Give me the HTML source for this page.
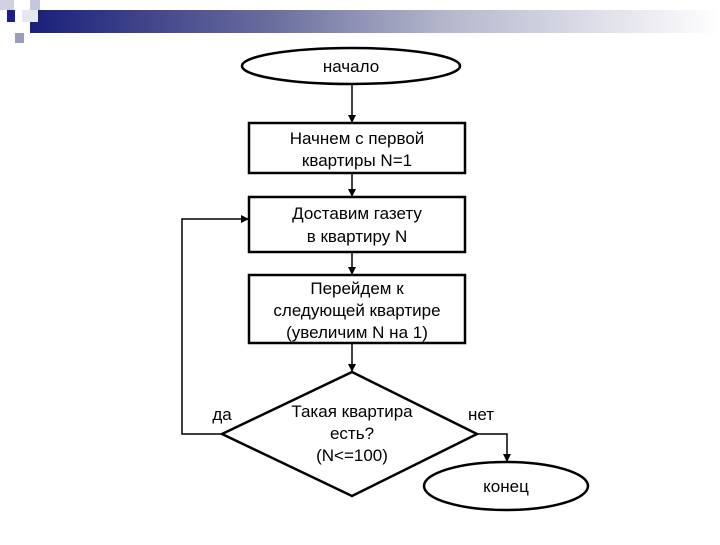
<!DOCTYPE html>
<html><head><meta charset="utf-8"><style>
body{margin:0;width:720px;height:540px;background:#fff;overflow:hidden}
</style></head><body>
<svg width="720" height="540" xmlns="http://www.w3.org/2000/svg" font-family="Liberation Sans, sans-serif" font-size="17" text-anchor="middle">
<defs>
<linearGradient id="g" x1="0" x2="1" y1="0" y2="0">
<stop offset="0" stop-color="#1a1f7a"/><stop offset="0.35" stop-color="#6a6e9e"/><stop offset="0.6" stop-color="#b4b6cc"/><stop offset="1" stop-color="#ffffff"/>
</linearGradient>
<marker id="a" markerWidth="8" markerHeight="8" refX="7" refY="4" orient="auto" markerUnits="userSpaceOnUse"><path d="M0,0 L8,4 L0,8 z" fill="#000"/></marker>
</defs>
<rect x="30" y="10" width="690" height="23" fill="url(#g)"/>
<rect x="0" y="0" width="14" height="10" fill="#d0d2e2"/>
<rect x="30" y="0" width="10" height="10" fill="#c4c6dc"/>
<rect x="7" y="10" width="8" height="12" fill="#1a1f8a"/>
<rect x="22" y="10" width="16" height="12" fill="#e6e7f0"/>
<rect x="15" y="33" width="9" height="10" fill="#9a9cc0"/>
<g fill="none" stroke="#000" stroke-width="2.5">
<ellipse cx="351" cy="66" rx="109" ry="18"/>
<rect x="249" y="123" width="216" height="50"/>
<rect x="249" y="197" width="216" height="55"/>
<rect x="249" y="275" width="216" height="68"/>
<polygon points="352,372 477,434 352,496 222,434"/>
<ellipse cx="506" cy="486" rx="82" ry="24"/>
</g>
<g fill="none" stroke="#000" stroke-width="1.5">
<line x1="352" y1="84" x2="352" y2="122" marker-end="url(#a)"/>
<line x1="352" y1="173" x2="352" y2="196" marker-end="url(#a)"/>
<line x1="352" y1="252" x2="352" y2="274" marker-end="url(#a)"/>
<line x1="352" y1="343" x2="352" y2="371" marker-end="url(#a)"/>
<polyline points="222,434 182,434 182,219 248,219" marker-end="url(#a)"/>
<polyline points="477,434 507,434 507,461" marker-end="url(#a)"/>
</g>
<g fill="#000">
<text x="351" y="72">начало</text>
<text x="357" y="144">Начнем с первой</text>
<text x="357" y="166">квартиры N=1</text>
<text x="357" y="219">Доставим газету</text>
<text x="357" y="242">в квартиру N</text>
<text x="357" y="294">Перейдем к</text>
<text x="357" y="316">следующей квартире</text>
<text x="357" y="338">(увеличим N на 1)</text>
<text x="352" y="417">Такая квартира</text>
<text x="352" y="439">есть?</text>
<text x="352" y="461">(N&lt;=100)</text>
<text x="222" y="420">да</text>
<text x="481" y="420">нет</text>
<text x="506" y="492">конец</text>
</g>
</svg>
</body></html>
